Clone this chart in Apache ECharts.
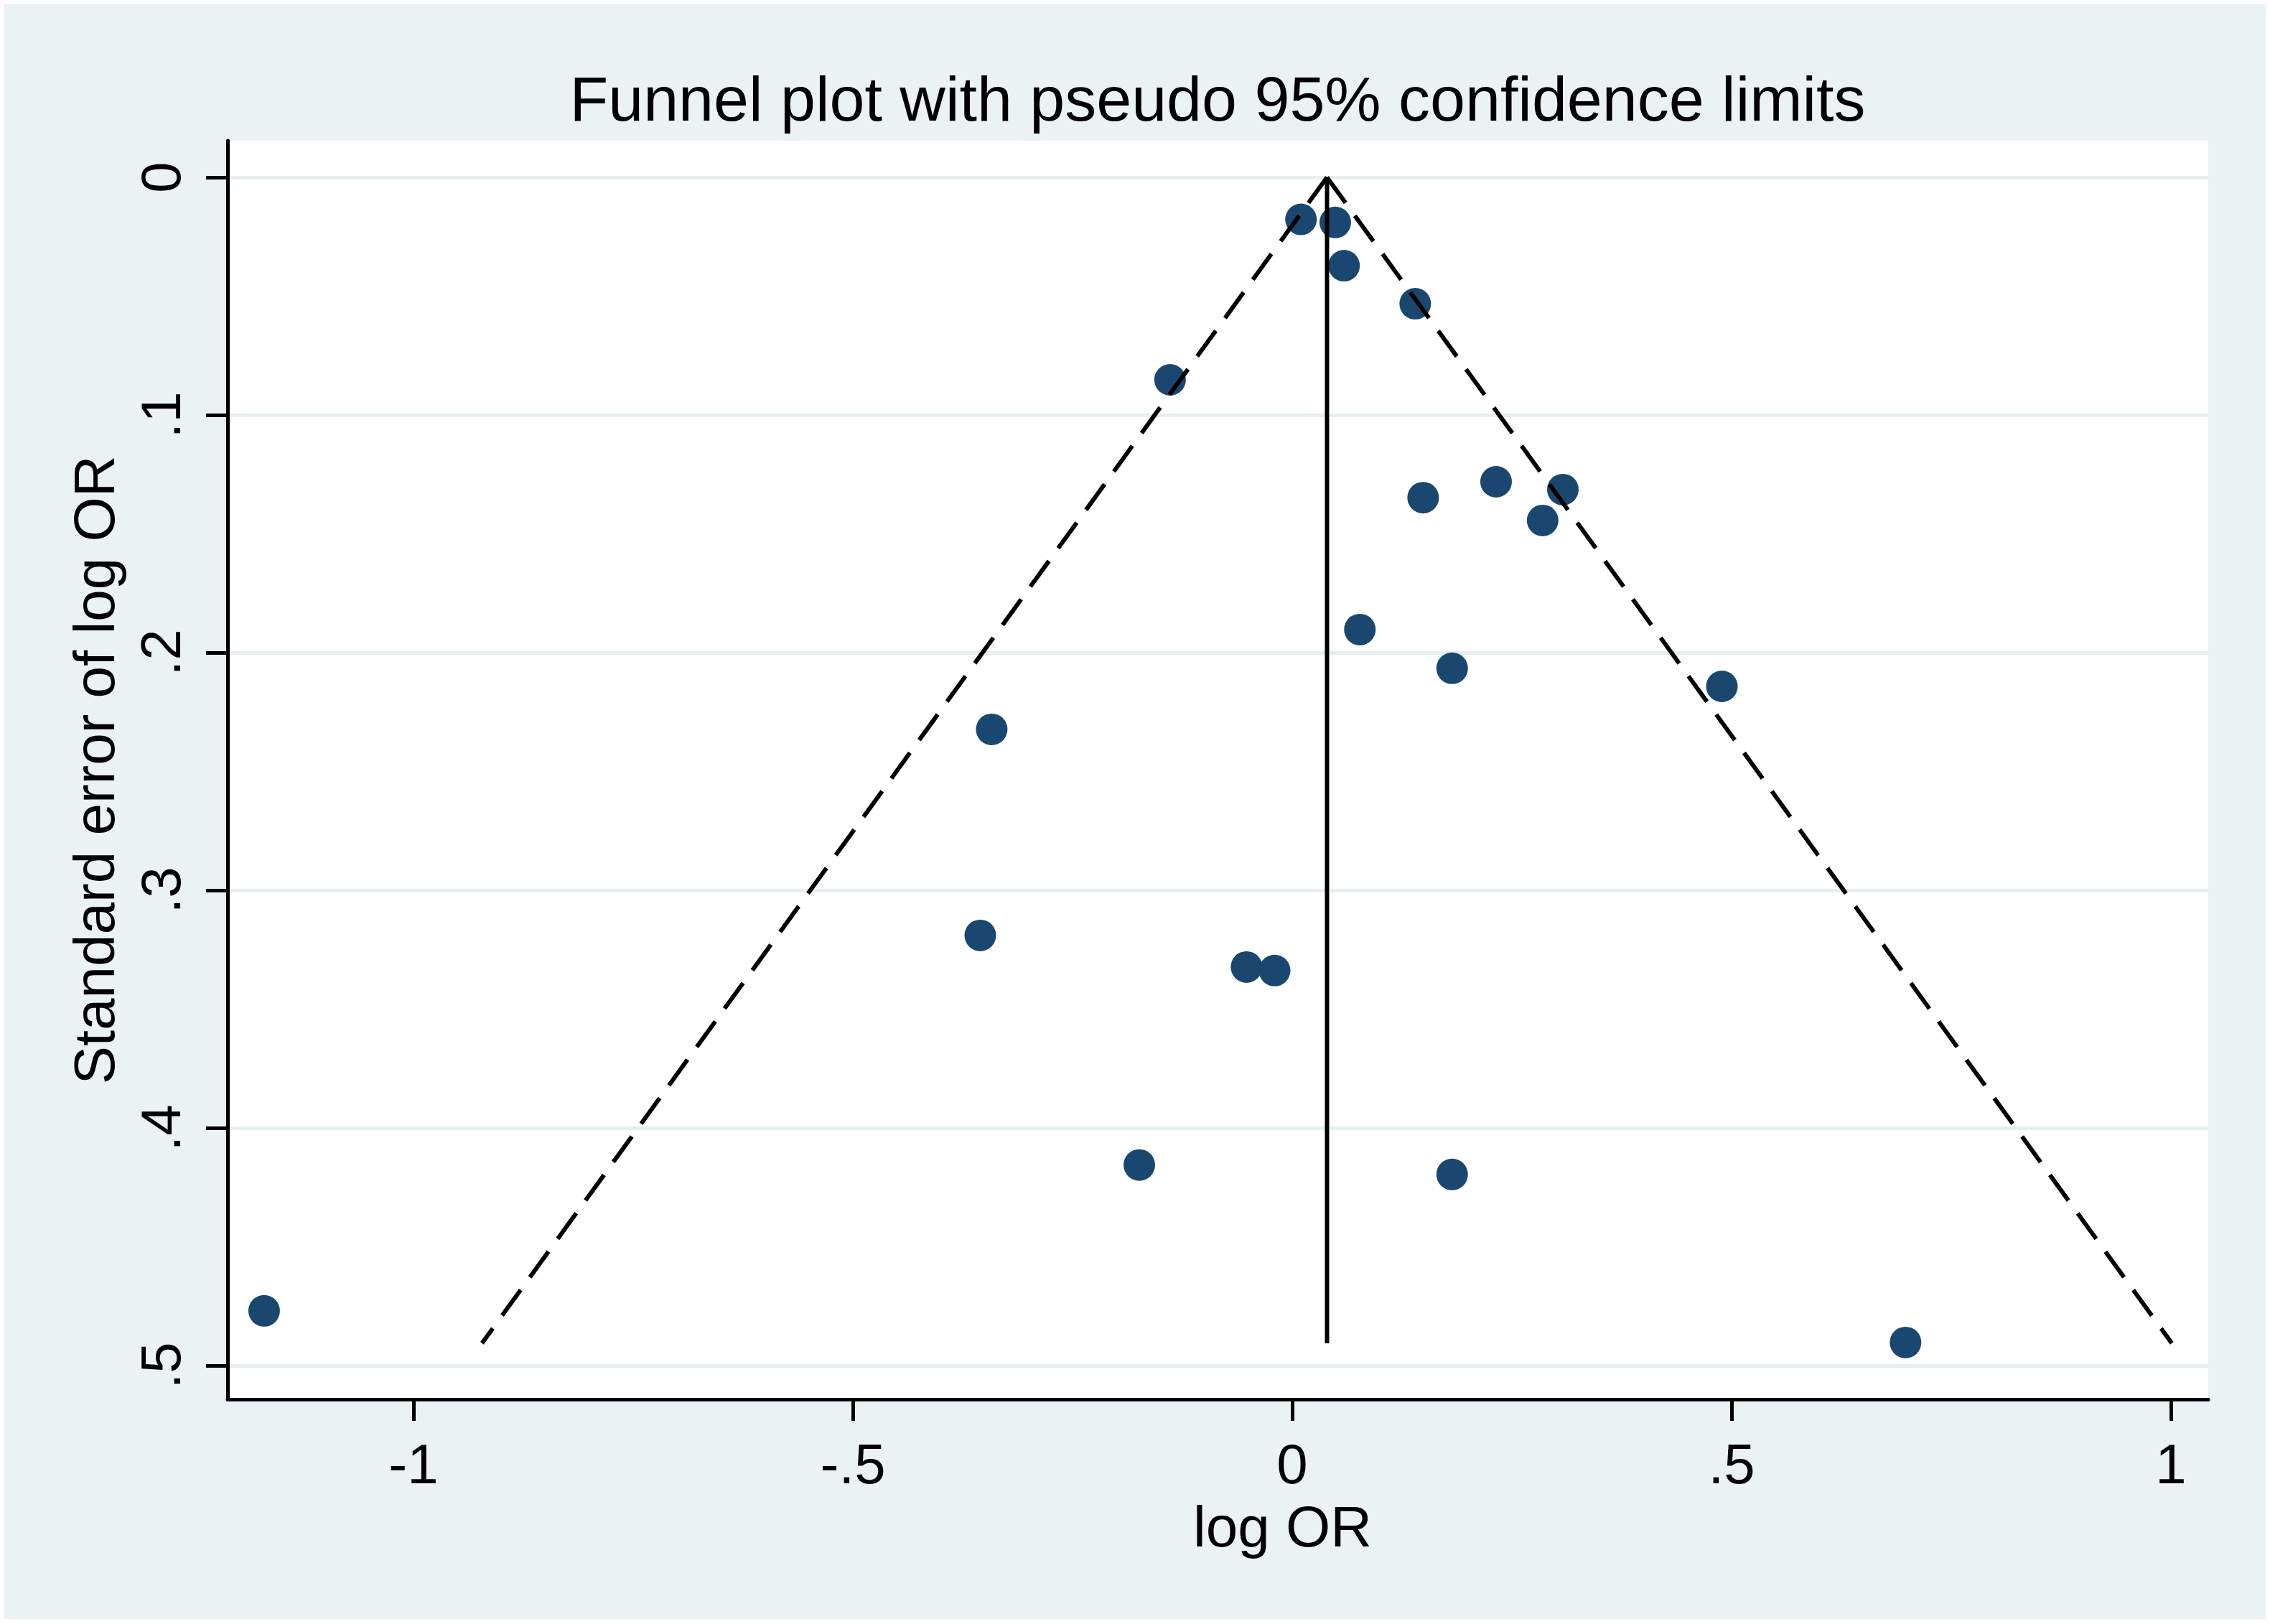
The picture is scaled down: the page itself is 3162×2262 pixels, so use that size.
<!DOCTYPE html>
<html>
<head>
<meta charset="utf-8">
<title>Funnel plot</title>
<script src="https://cdn.jsdelivr.net/npm/echarts@6.0.0/dist/echarts.min.js"></script>
<style>
  html, body { margin: 0; padding: 0; background: #fff; }
  #main { position: absolute; left: 6px; top: 6px; width: 3150px; height: 2249px; }
</style>
</head>
<body>
<div id="main"></div>
<script>
// study estimates
const logOR = [0.010, 0.049, 0.059, 0.140, -0.139, 0.232, 0.308, 0.149, 0.285, 0.077,
               0.182, 0.489, -0.342, -0.355, -0.052, -0.020, -0.174, 0.182, -1.170, 0.698];
const seLogOR = [0.0177, 0.0190, 0.0372, 0.0532, 0.0852, 0.1281, 0.1314, 0.1348, 0.1444, 0.1903,
                 0.2066, 0.2142, 0.2323, 0.3190, 0.3323, 0.3338, 0.4156, 0.4196, 0.4770, 0.4903];

// pooled estimate and pseudo 95% limits (apex -> widest point)
const funnelSE = [0, 0.4906];
const pooledLine = [0.0396, 0.0396];
const lowerLimit = [0.0396, -0.922];
const upperLimit = [0.0396, 1.001];

const xTicks = [-1, -0.5, 0, 0.5, 1];
const xTickLabels = ['-1', '-.5', '0', '.5', '1'];
const yTicks = [0, 0.1, 0.2, 0.3, 0.4, 0.5];
const yTickLabels = ['0', '.1', '.2', '.3', '.4', '.5'];

const FONT = "'Liberation Sans', Arial, sans-serif";

const chart = echarts.init(document.getElementById('main'));

const pairs = (xs, ys) => xs.map((x, i) => [x, ys[i]]);
const tickLabel = (ticks, labels) => v => {
  const i = ticks.findIndex(t => Math.abs(t - v) < 1e-9);
  return i < 0 ? '' : labels[i];
};

const refLine = (name, xs, dash) => ({
  name: name,
  type: 'line',
  data: pairs(xs, funnelSE),
  symbol: 'none',
  silent: true,
  z: 5,
  lineStyle: { color: '#000', width: 6, type: dash }
});

const option = {
  backgroundColor: '#EAF2F3',
  animation: false,
  title: {
    text: 'Funnel plot with pseudo 95% confidence limits',
    left: 1690,
    top: 94,
    padding: 0,
    textAlign: 'center',
    textStyle: { fontFamily: FONT, fontSize: 88, fontWeight: 'normal', color: '#000' }
  },
  grid: {
    left: 311, top: 190, width: 2759, height: 1753,
    show: true, backgroundColor: '#fff', borderWidth: 0
  },
  xAxis: {
    type: 'value',
    min: -1.2116, max: 1.0425,
    name: 'log OR',
    nameLocation: 'middle',
    nameGap: 143,
    nameTextStyle: { fontFamily: FONT, fontSize: 80, color: '#000', padding: [0, 0, 0, 180] },
    axisLine: { onZero: false, lineStyle: { color: '#000', width: 5 } },
    axisTick: { customValues: xTicks, length: 30, lineStyle: { color: '#000', width: 5 } },
    axisLabel: {
      customValues: xTicks,
      formatter: tickLabel(xTicks, xTickLabels),
      margin: 56, fontFamily: FONT, fontSize: 78, color: '#000'
    },
    splitLine: { show: false }
  },
  yAxis: {
    type: 'value',
    inverse: true,
    min: -0.0154, max: 0.5142,
    name: 'Standard error of log OR',
    nameLocation: 'middle',
    nameRotate: 90,
    nameGap: 140,
    nameTextStyle: { fontFamily: FONT, fontSize: 80, color: '#000' },
    axisLine: { onZero: false, lineStyle: { color: '#000', width: 5 } },
    axisTick: { customValues: yTicks, length: 30, lineStyle: { color: '#000', width: 5 } },
    axisLabel: {
      customValues: yTicks,
      formatter: tickLabel(yTicks, yTickLabels),
      rotate: 90,
      margin: 49, fontFamily: FONT, fontSize: 78, color: '#000'
    },
    splitLine: { show: true, lineStyle: { color: '#E6EEF0', width: 5 } }
  },
  series: [
    {
      name: 'Studies',
      type: 'scatter',
      data: pairs(logOR, seLogOR),
      symbol: 'circle',
      symbolSize: 44,
      z: 2,
      itemStyle: { color: '#1A476F', opacity: 1 }
    },
    refLine('Pooled', pooledLine, 'solid'),
    refLine('Lower limit', lowerLimit, [44, 22]),
    refLine('Upper limit', upperLimit, [44, 22])
  ]
};

chart.setOption(option);
</script>
</body>
</html>
